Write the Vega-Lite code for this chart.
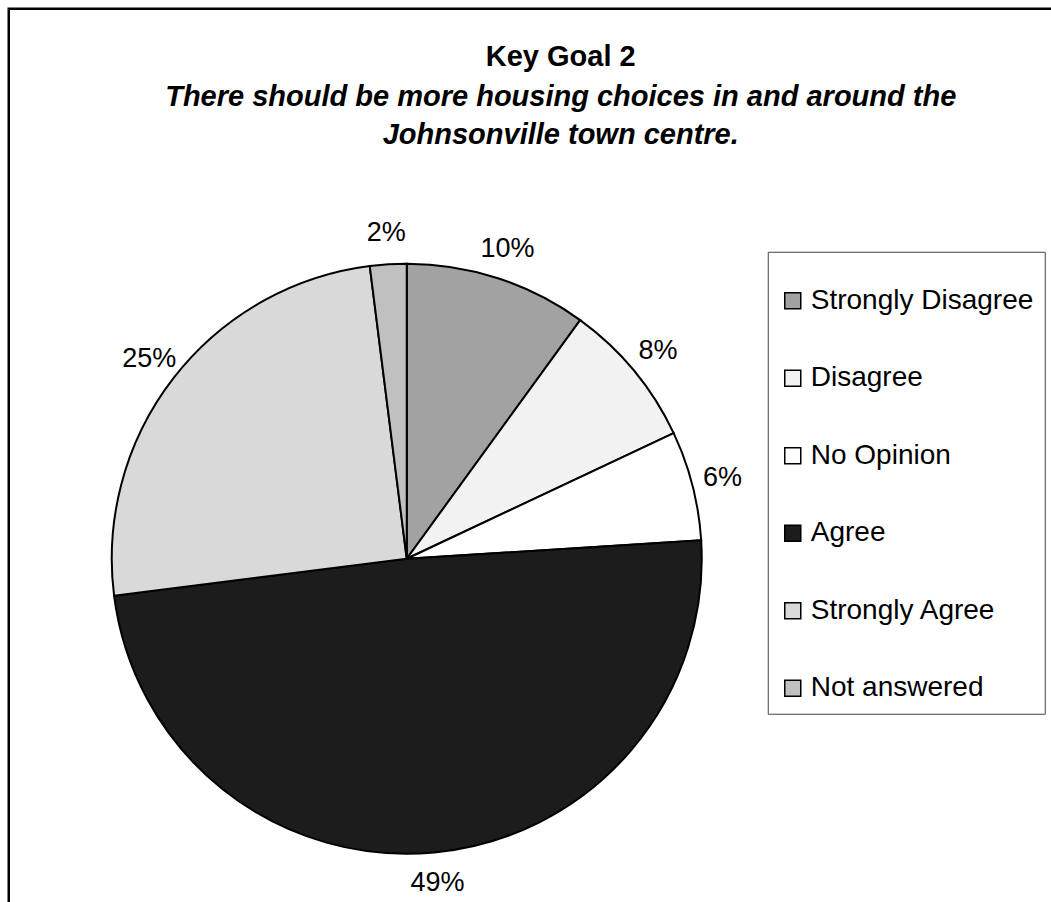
{
  "$schema": "https://vega.github.io/schema/vega-lite/v6.json",
  "autosize": {"type": "pad"},
  "padding": {"left": 6.75, "top": 6.75, "right": -1.25, "bottom": -206.25},
  "background": "white",
  "bounds": "flush",
  "config": {
    "font": "Liberation Sans",
    "view": {"stroke": null}
  },
  "title": {
    "text": "Key Goal 2",
    "subtitle": ["There should be more housing choices in and around the", "Johnsonville town centre."],
    "anchor": "middle",
    "frame": "group",
    "orient": "top",
    "offset": -142,
    "dx": 552,
    "font": "Liberation Sans",
    "fontSize": 29,
    "fontWeight": "bold",
    "color": "black",
    "subtitleFont": "Liberation Sans",
    "subtitleFontSize": 29,
    "subtitleFontWeight": "bold",
    "subtitleFontStyle": "italic",
    "subtitleColor": "black",
    "subtitleLineHeight": 38,
    "subtitlePadding": 11
  },
  "spacing": 0,
  "vconcat": [
    {
      "width": 1043,
      "height": 1,
      "view": {"stroke": "black", "strokeWidth": 2.5, "strokeDash": [1043, 1044, 1]},
      "data": {"values": [{"t": ""}]},
      "mark": {"type": "text", "baseline": "top", "fontSize": 2},
      "encoding": {"text": {"field": "t", "type": "nominal"}}
    },
    {
      "width": 796,
      "height": 1098,
      "view": {"stroke": "black", "strokeWidth": 2.5, "strokeDash": [1098, 2690], "strokeDashOffset": 1098},
      "data": {
        "values": [
          {"n": 1, "category": "Strongly Disagree", "value": 10, "label": "10%"},
          {"n": 2, "category": "Disagree", "value": 8, "label": "8%"},
          {"n": 3, "category": "No Opinion", "value": 6, "label": "6%"},
          {"n": 4, "category": "Agree", "value": 49, "label": "49%"},
          {"n": 5, "category": "Strongly Agree", "value": 25, "label": "25%"},
          {"n": 6, "category": "Not answered", "value": 2, "label": "2%"}
        ]
      },
      "encoding": {
        "theta": {"field": "value", "type": "quantitative", "stack": true},
        "order": {"field": "n", "type": "quantitative"}
      },
      "layer": [
        {
          "mark": {"type": "arc", "outerRadius": 295, "stroke": "black", "strokeWidth": 2, "opacity": 1},
          "encoding": {
            "color": {
              "field": "category",
              "type": "nominal",
              "sort": ["Strongly Disagree", "Disagree", "No Opinion", "Agree", "Strongly Agree", "Not answered"],
              "scale": {
                "domain": ["Strongly Disagree", "Disagree", "No Opinion", "Agree", "Strongly Agree", "Not answered"],
                "range": ["#a2a2a2", "#f2f2f2", "#ffffff", "#1c1c1c", "#d9d9d9", "#c0c0c0"]
              },
              "legend": {
                "orient": "none",
                "legendX": 759,
                "legendY": 243,
                "title": " ",
                "titleFontSize": 10,
                "titlePadding": 14,
                "padding": 11,
                "fillColor": "white",
                "strokeColor": "#444444",
                "symbolType": "square",
                "symbolSize": 256,
                "symbolStrokeColor": "black",
                "symbolStrokeWidth": 1.5,
                "symbolOpacity": 1,
                "labelFont": "Liberation Sans",
                "labelFontSize": 28,
                "labelColor": "black",
                "labelOffset": 4,
                "labelLimit": 400,
                "rowPadding": 49.5
              }
            }
          }
        },
        {
          "mark": {"type": "text", "radius": 326, "fontSize": 27, "font": "Liberation Sans", "color": "black"},
          "encoding": {
            "text": {"field": "label", "type": "nominal"},
            "detail": {"field": "category", "type": "nominal"}
          }
        }
      ]
    }
  ]
}
